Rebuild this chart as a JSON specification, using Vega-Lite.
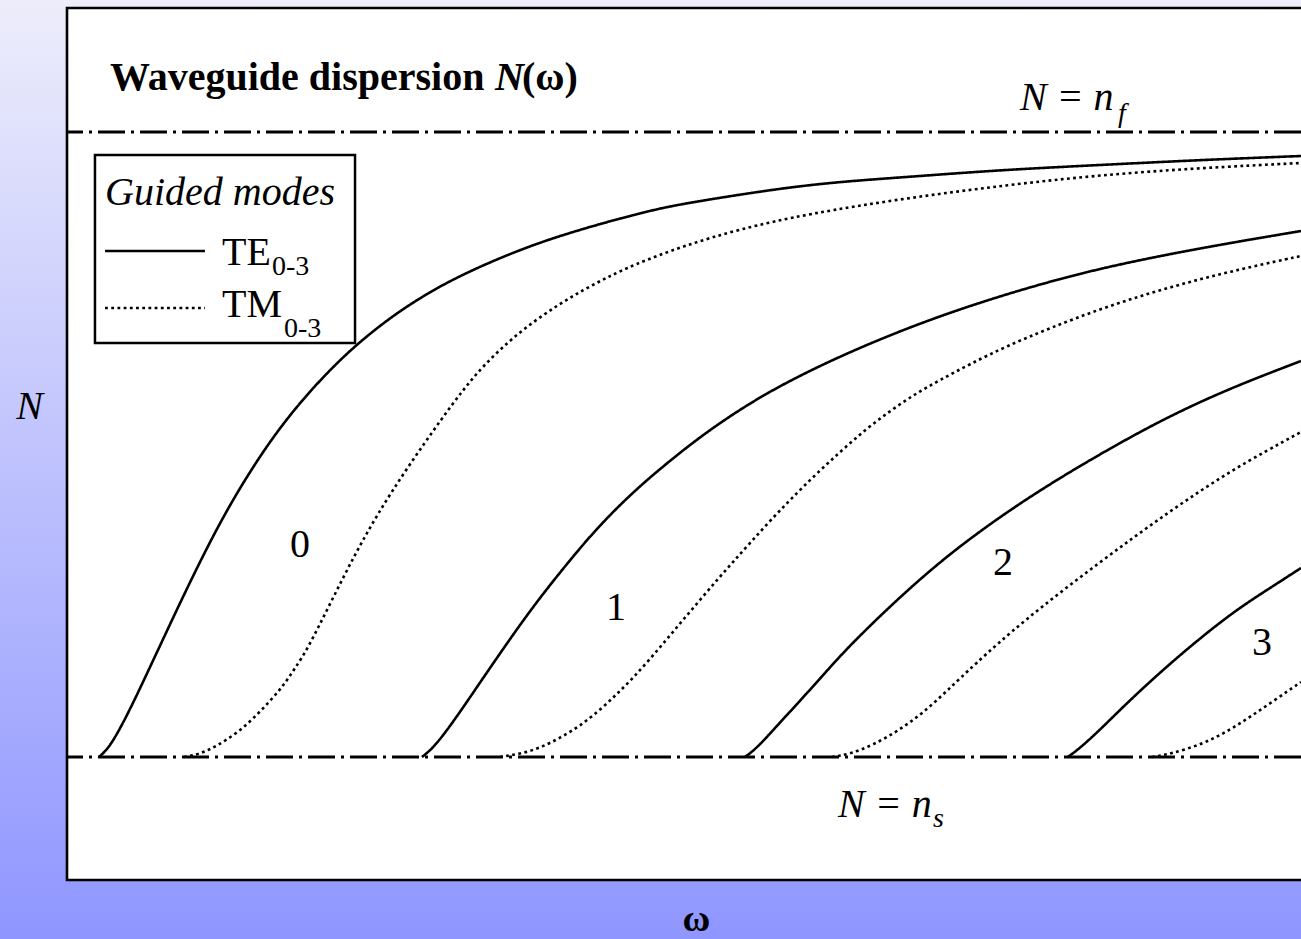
{
  "$schema": "https://vega.github.io/schema/vega-lite/v6.json",
  "width": 1234,
  "height": 872,
  "autosize": {"type": "none"},
  "padding": {"left": 67, "top": 8, "right": 0, "bottom": 59},
  "background": "#C6C9F9",
  "datasets": {
    "one": [{}],
    "levels": [{"n": 1.5, "level": "n_s"}, {"n": 2.0, "level": "n_f"}],
    "curves": [
      {"w": 0.254, "n": 1.5, "curve": "TE0", "mode": "TE"},
      {"w": 0.325, "n": 1.5064, "curve": "TE0", "mode": "TE"},
      {"w": 0.421, "n": 1.5224, "curve": "TE0", "mode": "TE"},
      {"w": 0.54, "n": 1.5464, "curve": "TE0", "mode": "TE"},
      {"w": 0.659, "n": 1.572, "curve": "TE0", "mode": "TE"},
      {"w": 0.778, "n": 1.5976, "curve": "TE0", "mode": "TE"},
      {"w": 0.897, "n": 1.6232, "curve": "TE0", "mode": "TE"},
      {"w": 1.016, "n": 1.648, "curve": "TE0", "mode": "TE"},
      {"w": 1.135, "n": 1.672, "curve": "TE0", "mode": "TE"},
      {"w": 1.254, "n": 1.6944, "curve": "TE0", "mode": "TE"},
      {"w": 1.373, "n": 1.7152, "curve": "TE0", "mode": "TE"},
      {"w": 1.508, "n": 1.7368, "curve": "TE0", "mode": "TE"},
      {"w": 1.643, "n": 1.7568, "curve": "TE0", "mode": "TE"},
      {"w": 1.802, "n": 1.7776, "curve": "TE0", "mode": "TE"},
      {"w": 1.96, "n": 1.796, "curve": "TE0", "mode": "TE"},
      {"w": 2.119, "n": 1.8128, "curve": "TE0", "mode": "TE"},
      {"w": 2.278, "n": 1.828, "curve": "TE0", "mode": "TE"},
      {"w": 2.46, "n": 1.8432, "curve": "TE0", "mode": "TE"},
      {"w": 2.643, "n": 1.8568, "curve": "TE0", "mode": "TE"},
      {"w": 2.841, "n": 1.8696, "curve": "TE0", "mode": "TE"},
      {"w": 3.04, "n": 1.8808, "curve": "TE0", "mode": "TE"},
      {"w": 3.238, "n": 1.8904, "curve": "TE0", "mode": "TE"},
      {"w": 3.437, "n": 1.8992, "curve": "TE0", "mode": "TE"},
      {"w": 3.698, "n": 1.9096, "curve": "TE0", "mode": "TE"},
      {"w": 3.96, "n": 1.9184, "curve": "TE0", "mode": "TE"},
      {"w": 4.23, "n": 1.9264, "curve": "TE0", "mode": "TE"},
      {"w": 4.492, "n": 1.9336, "curve": "TE0", "mode": "TE"},
      {"w": 4.754, "n": 1.94, "curve": "TE0", "mode": "TE"},
      {"w": 5.024, "n": 1.9448, "curve": "TE0", "mode": "TE"},
      {"w": 5.421, "n": 1.9512, "curve": "TE0", "mode": "TE"},
      {"w": 5.817, "n": 1.9568, "curve": "TE0", "mode": "TE"},
      {"w": 6.214, "n": 1.9608, "curve": "TE0", "mode": "TE"},
      {"w": 6.667, "n": 1.964, "curve": "TE0", "mode": "TE"},
      {"w": 7.405, "n": 1.9696, "curve": "TE0", "mode": "TE"},
      {"w": 8.198, "n": 1.9736, "curve": "TE0", "mode": "TE"},
      {"w": 8.992, "n": 1.9776, "curve": "TE0", "mode": "TE"},
      {"w": 9.794, "n": 1.9808, "curve": "TE0", "mode": "TE"},

      {"w": 0.929, "n": 1.5, "curve": "TM0", "mode": "TM"},
      {"w": 1.056, "n": 1.5024, "curve": "TM0", "mode": "TM"},
      {"w": 1.19, "n": 1.5088, "curve": "TM0", "mode": "TM"},
      {"w": 1.349, "n": 1.5192, "curve": "TM0", "mode": "TM"},
      {"w": 1.484, "n": 1.5312, "curve": "TM0", "mode": "TM"},
      {"w": 1.611, "n": 1.5448, "curve": "TM0", "mode": "TM"},
      {"w": 1.722, "n": 1.5576, "curve": "TM0", "mode": "TM"},
      {"w": 1.81, "n": 1.5712, "curve": "TM0", "mode": "TM"},
      {"w": 1.905, "n": 1.5856, "curve": "TM0", "mode": "TM"},
      {"w": 2.087, "n": 1.6224, "curve": "TM0", "mode": "TM"},
      {"w": 2.278, "n": 1.6608, "curve": "TM0", "mode": "TM"},
      {"w": 2.46, "n": 1.6936, "curve": "TM0", "mode": "TM"},
      {"w": 2.698, "n": 1.7312, "curve": "TM0", "mode": "TM"},
      {"w": 2.984, "n": 1.772, "curve": "TM0", "mode": "TM"},
      {"w": 3.143, "n": 1.7936, "curve": "TM0", "mode": "TM"},
      {"w": 3.302, "n": 1.8128, "curve": "TM0", "mode": "TM"},
      {"w": 3.5, "n": 1.832, "curve": "TM0", "mode": "TM"},
      {"w": 3.698, "n": 1.848, "curve": "TM0", "mode": "TM"},
      {"w": 3.897, "n": 1.8616, "curve": "TM0", "mode": "TM"},
      {"w": 4.095, "n": 1.8736, "curve": "TM0", "mode": "TM"},
      {"w": 4.294, "n": 1.884, "curve": "TM0", "mode": "TM"},
      {"w": 4.492, "n": 1.8936, "curve": "TM0", "mode": "TM"},
      {"w": 4.889, "n": 1.9088, "curve": "TM0", "mode": "TM"},
      {"w": 5.341, "n": 1.9224, "curve": "TM0", "mode": "TM"},
      {"w": 5.873, "n": 1.9344, "curve": "TM0", "mode": "TM"},
      {"w": 6.667, "n": 1.9472, "curve": "TM0", "mode": "TM"},
      {"w": 7.46, "n": 1.9576, "curve": "TM0", "mode": "TM"},
      {"w": 8.198, "n": 1.9656, "curve": "TM0", "mode": "TM"},
      {"w": 8.992, "n": 1.9712, "curve": "TM0", "mode": "TM"},
      {"w": 9.794, "n": 1.9752, "curve": "TM0", "mode": "TM"},

      {"w": 2.817, "n": 1.5, "curve": "TE1", "mode": "TE"},
      {"w": 2.897, "n": 1.5064, "curve": "TE1", "mode": "TE"},
      {"w": 3.0, "n": 1.5192, "curve": "TE1", "mode": "TE"},
      {"w": 3.119, "n": 1.536, "curve": "TE1", "mode": "TE"},
      {"w": 3.238, "n": 1.5536, "curve": "TE1", "mode": "TE"},
      {"w": 3.357, "n": 1.5712, "curve": "TE1", "mode": "TE"},
      {"w": 3.516, "n": 1.5944, "curve": "TE1", "mode": "TE"},
      {"w": 3.675, "n": 1.6168, "curve": "TE1", "mode": "TE"},
      {"w": 3.833, "n": 1.6376, "curve": "TE1", "mode": "TE"},
      {"w": 4.032, "n": 1.6624, "curve": "TE1", "mode": "TE"},
      {"w": 4.23, "n": 1.6856, "curve": "TE1", "mode": "TE"},
      {"w": 4.492, "n": 1.712, "curve": "TE1", "mode": "TE"},
      {"w": 4.762, "n": 1.7352, "curve": "TE1", "mode": "TE"},
      {"w": 5.024, "n": 1.756, "curve": "TE1", "mode": "TE"},
      {"w": 5.286, "n": 1.7744, "curve": "TE1", "mode": "TE"},
      {"w": 5.556, "n": 1.7912, "curve": "TE1", "mode": "TE"},
      {"w": 5.873, "n": 1.808, "curve": "TE1", "mode": "TE"},
      {"w": 6.214, "n": 1.824, "curve": "TE1", "mode": "TE"},
      {"w": 6.611, "n": 1.8408, "curve": "TE1", "mode": "TE"},
      {"w": 7.063, "n": 1.8576, "curve": "TE1", "mode": "TE"},
      {"w": 7.587, "n": 1.8744, "curve": "TE1", "mode": "TE"},
      {"w": 8.198, "n": 1.8912, "curve": "TE1", "mode": "TE"},
      {"w": 8.992, "n": 1.9072, "curve": "TE1", "mode": "TE"},
      {"w": 9.794, "n": 1.9208, "curve": "TE1", "mode": "TE"},

      {"w": 3.437, "n": 1.5, "curve": "TM1", "mode": "TM"},
      {"w": 3.595, "n": 1.5024, "curve": "TM1", "mode": "TM"},
      {"w": 3.754, "n": 1.5072, "curve": "TM1", "mode": "TM"},
      {"w": 3.913, "n": 1.5152, "curve": "TM1", "mode": "TM"},
      {"w": 4.071, "n": 1.5248, "curve": "TM1", "mode": "TM"},
      {"w": 4.23, "n": 1.5376, "curve": "TM1", "mode": "TM"},
      {"w": 4.365, "n": 1.5504, "curve": "TM1", "mode": "TM"},
      {"w": 4.492, "n": 1.5632, "curve": "TM1", "mode": "TM"},
      {"w": 4.627, "n": 1.5784, "curve": "TM1", "mode": "TM"},
      {"w": 4.762, "n": 1.5944, "curve": "TM1", "mode": "TM"},
      {"w": 4.889, "n": 1.6096, "curve": "TM1", "mode": "TM"},
      {"w": 5.024, "n": 1.6256, "curve": "TM1", "mode": "TM"},
      {"w": 5.159, "n": 1.6416, "curve": "TM1", "mode": "TM"},
      {"w": 5.286, "n": 1.656, "curve": "TM1", "mode": "TM"},
      {"w": 5.421, "n": 1.6712, "curve": "TM1", "mode": "TM"},
      {"w": 5.579, "n": 1.6888, "curve": "TM1", "mode": "TM"},
      {"w": 5.738, "n": 1.7056, "curve": "TM1", "mode": "TM"},
      {"w": 5.937, "n": 1.7256, "curve": "TM1", "mode": "TM"},
      {"w": 6.135, "n": 1.744, "curve": "TM1", "mode": "TM"},
      {"w": 6.333, "n": 1.7616, "curve": "TM1", "mode": "TM"},
      {"w": 6.532, "n": 1.7768, "curve": "TM1", "mode": "TM"},
      {"w": 6.73, "n": 1.7904, "curve": "TM1", "mode": "TM"},
      {"w": 6.929, "n": 1.8016, "curve": "TM1", "mode": "TM"},
      {"w": 7.167, "n": 1.8144, "curve": "TM1", "mode": "TM"},
      {"w": 7.46, "n": 1.8288, "curve": "TM1", "mode": "TM"},
      {"w": 7.802, "n": 1.8432, "curve": "TM1", "mode": "TM"},
      {"w": 8.198, "n": 1.8584, "curve": "TM1", "mode": "TM"},
      {"w": 8.595, "n": 1.8712, "curve": "TM1", "mode": "TM"},
      {"w": 8.992, "n": 1.8824, "curve": "TM1", "mode": "TM"},
      {"w": 9.389, "n": 1.892, "curve": "TM1", "mode": "TM"},
      {"w": 9.794, "n": 1.9008, "curve": "TM1", "mode": "TM"},

      {"w": 5.381, "n": 1.5, "curve": "TE2", "mode": "TE"},
      {"w": 5.476, "n": 1.5072, "curve": "TE2", "mode": "TE"},
      {"w": 5.619, "n": 1.5232, "curve": "TE2", "mode": "TE"},
      {"w": 5.817, "n": 1.5448, "curve": "TE2", "mode": "TE"},
      {"w": 6.016, "n": 1.5672, "curve": "TE2", "mode": "TE"},
      {"w": 6.214, "n": 1.5896, "curve": "TE2", "mode": "TE"},
      {"w": 6.667, "n": 1.6336, "curve": "TE2", "mode": "TE"},
      {"w": 7.063, "n": 1.6672, "curve": "TE2", "mode": "TE"},
      {"w": 7.46, "n": 1.696, "curve": "TE2", "mode": "TE"},
      {"w": 7.802, "n": 1.7184, "curve": "TE2", "mode": "TE"},
      {"w": 8.198, "n": 1.7424, "curve": "TE2", "mode": "TE"},
      {"w": 8.73, "n": 1.772, "curve": "TE2", "mode": "TE"},
      {"w": 9.254, "n": 1.796, "curve": "TE2", "mode": "TE"},
      {"w": 9.794, "n": 1.8168, "curve": "TE2", "mode": "TE"},

      {"w": 6.071, "n": 1.5, "curve": "TM2", "mode": "TM"},
      {"w": 6.214, "n": 1.5024, "curve": "TM2", "mode": "TM"},
      {"w": 6.397, "n": 1.5096, "curve": "TM2", "mode": "TM"},
      {"w": 6.595, "n": 1.5208, "curve": "TM2", "mode": "TM"},
      {"w": 6.794, "n": 1.5352, "curve": "TM2", "mode": "TM"},
      {"w": 6.992, "n": 1.5536, "curve": "TM2", "mode": "TM"},
      {"w": 7.19, "n": 1.5728, "curve": "TM2", "mode": "TM"},
      {"w": 7.587, "n": 1.6088, "curve": "TM2", "mode": "TM"},
      {"w": 8.198, "n": 1.656, "curve": "TM2", "mode": "TM"},
      {"w": 8.73, "n": 1.6952, "curve": "TM2", "mode": "TM"},
      {"w": 9.254, "n": 1.7304, "curve": "TM2", "mode": "TM"},
      {"w": 9.794, "n": 1.76, "curve": "TM2", "mode": "TM"},

      {"w": 7.944, "n": 1.5, "curve": "TE3", "mode": "TE"},
      {"w": 8.04, "n": 1.5072, "curve": "TE3", "mode": "TE"},
      {"w": 8.198, "n": 1.5216, "curve": "TE3", "mode": "TE"},
      {"w": 8.46, "n": 1.548, "curve": "TE3", "mode": "TE"},
      {"w": 8.857, "n": 1.584, "curve": "TE3", "mode": "TE"},
      {"w": 9.254, "n": 1.616, "curve": "TE3", "mode": "TE"},
      {"w": 9.524, "n": 1.6336, "curve": "TE3", "mode": "TE"},
      {"w": 9.794, "n": 1.6512, "curve": "TE3", "mode": "TE"},

      {"w": 8.611, "n": 1.5, "curve": "TM3", "mode": "TM"},
      {"w": 8.754, "n": 1.5024, "curve": "TM3", "mode": "TM"},
      {"w": 8.992, "n": 1.5096, "curve": "TM3", "mode": "TM"},
      {"w": 9.19, "n": 1.5192, "curve": "TM3", "mode": "TM"},
      {"w": 9.389, "n": 1.532, "curve": "TM3", "mode": "TM"},
      {"w": 9.587, "n": 1.5456, "curve": "TM3", "mode": "TM"},
      {"w": 9.794, "n": 1.56, "curve": "TM3", "mode": "TM"}
    ],
    "titleBold": [
      {"w": 0.341, "n": 2.0336, "label": "Waveguide dispersion"},
      {"w": 3.611, "n": 2.0336, "label": "(ω)"}
    ],
    "titleItalic": [{"w": 3.397, "n": 2.0336, "label": "N"}],
    "italicText": [
      {"w": 7.563, "n": 2.0176, "label": "N = n"},
      {"w": 6.119, "n": 1.452, "label": "N = n"},
      {"w": 0.302, "n": 1.9416, "label": "Guided modes"}
    ],
    "italicSub": [
      {"w": 8.341, "n": 2.008, "label": "f"},
      {"w": 6.873, "n": 1.444, "label": "s"}
    ],
    "legendText": [
      {"w": 1.23, "n": 1.8936, "label": "TE"},
      {"w": 1.23, "n": 1.852, "label": "TM"}
    ],
    "legendSub": [
      {"w": 1.627, "n": 1.8856, "label": "0-3"},
      {"w": 1.722, "n": 1.836, "label": "0-3"}
    ],
    "curveLabels": [
      {"w": 1.849, "n": 1.66, "label": "0"},
      {"w": 4.357, "n": 1.6096, "label": "1"},
      {"w": 7.429, "n": 1.6456, "label": "2"},
      {"w": 9.484, "n": 1.5816, "label": "3"}
    ]
  },
  "layer": [
    {
      "data": {"name": "one"},
      "mark": {
        "type": "rect",
        "clip": false,
        "strokeWidth": 0,
        "fill": {
          "gradient": "linear",
          "x1": 0, "y1": 0, "x2": 0, "y2": 1,
          "stops": [
            {"offset": 0, "color": "#F0F0FB"},
            {"offset": 1, "color": "#8C93FF"}
          ]
        }
      },
      "encoding": {
        "x": {"datum": -0.6, "type": "quantitative", "scale": {"domain": [0, 9.794], "nice": false, "zero": false}, "title": "ω", "axis": {"zindex": 1}},
        "x2": {"datum": 10.6},
        "y": {"datum": 2.13, "type": "quantitative", "scale": {"domain": [1.4016, 2.0992], "nice": false, "zero": false}, "title": "N", "axis": {"zindex": 1}},
        "y2": {"datum": 1.33}
      }
    },
    {
      "data": {"name": "one"},
      "mark": {"type": "rect", "clip": false, "fill": "white", "stroke": "black", "strokeWidth": 2.6},
      "encoding": {
        "x": {"datum": 0, "type": "quantitative", "scale": {"domain": [0, 9.794], "nice": false, "zero": false}, "title": "ω", "axis": {"zindex": 1}},
        "x2": {"datum": 10.6},
        "y": {"datum": 2.0992, "type": "quantitative", "scale": {"domain": [1.4016, 2.0992], "nice": false, "zero": false}, "title": "N", "axis": {"zindex": 1}},
        "y2": {"datum": 1.4016}
      }
    },
    {
      "data": {"name": "levels"},
      "mark": {"type": "rule", "color": "black", "strokeWidth": 2.8, "strokeDash": [27, 6, 3, 6]},
      "encoding": {
        "y": {"field": "n", "type": "quantitative", "scale": {"domain": [1.4016, 2.0992], "nice": false, "zero": false}, "title": "N", "axis": {"zindex": 1}}
      }
    },
    {
      "data": {"name": "curves"},
      "mark": {"type": "line", "color": "black", "strokeWidth": 2.6, "interpolate": "basis"},
      "encoding": {
        "x": {"field": "w", "type": "quantitative", "scale": {"domain": [0, 9.794], "nice": false, "zero": false}, "title": "ω", "axis": {"zindex": 1}},
        "y": {"field": "n", "type": "quantitative", "scale": {"domain": [1.4016, 2.0992], "nice": false, "zero": false}, "title": "N", "axis": {"zindex": 1}},
        "detail": {"field": "curve", "type": "nominal"},
        "strokeDash": {"field": "mode", "type": "nominal", "scale": {"domain": ["TE", "TM"], "range": [[1, 0], [2.8, 3.4]]}, "legend": null}
      }
    },
    {
      "data": {"name": "one"},
      "mark": {"type": "rect", "clip": false, "fill": "white", "stroke": "black", "strokeWidth": 2.5},
      "encoding": {
        "x": {"datum": 0.222, "type": "quantitative", "scale": {"domain": [0, 9.794], "nice": false, "zero": false}, "title": "ω", "axis": {"zindex": 1}},
        "x2": {"datum": 2.286},
        "y": {"datum": 1.9816, "type": "quantitative", "scale": {"domain": [1.4016, 2.0992], "nice": false, "zero": false}, "title": "N", "axis": {"zindex": 1}},
        "y2": {"datum": 1.8312}
      }
    },
    {
      "data": {"name": "one"},
      "mark": {"type": "rule", "color": "black", "strokeWidth": 2.6},
      "encoding": {
        "x": {"datum": 0.302, "type": "quantitative", "scale": {"domain": [0, 9.794], "nice": false, "zero": false}, "title": "ω", "axis": {"zindex": 1}},
        "x2": {"datum": 1.095},
        "y": {"datum": 1.9048, "type": "quantitative", "scale": {"domain": [1.4016, 2.0992], "nice": false, "zero": false}, "title": "N", "axis": {"zindex": 1}}
      }
    },
    {
      "data": {"name": "one"},
      "mark": {"type": "rule", "color": "black", "strokeWidth": 2.6, "strokeDash": [2.8, 3.4]},
      "encoding": {
        "x": {"datum": 0.302, "type": "quantitative", "scale": {"domain": [0, 9.794], "nice": false, "zero": false}, "title": "ω", "axis": {"zindex": 1}},
        "x2": {"datum": 1.095},
        "y": {"datum": 1.8592, "type": "quantitative", "scale": {"domain": [1.4016, 2.0992], "nice": false, "zero": false}, "title": "N", "axis": {"zindex": 1}}
      }
    },
    {
      "data": {"name": "titleBold"},
      "mark": {"type": "text", "font": "Liberation Serif", "fontSize": 40, "fontWeight": "bold", "align": "left", "baseline": "alphabetic", "color": "black"},
      "encoding": {
        "x": {"field": "w", "type": "quantitative", "scale": {"domain": [0, 9.794], "nice": false, "zero": false}, "title": "ω", "axis": {"zindex": 1}},
        "y": {"field": "n", "type": "quantitative", "scale": {"domain": [1.4016, 2.0992], "nice": false, "zero": false}, "title": "N", "axis": {"zindex": 1}},
        "text": {"field": "label"}
      }
    },
    {
      "data": {"name": "titleItalic"},
      "mark": {"type": "text", "font": "Liberation Serif", "fontSize": 40, "fontWeight": "bold", "fontStyle": "italic", "align": "left", "baseline": "alphabetic", "color": "black"},
      "encoding": {
        "x": {"field": "w", "type": "quantitative", "scale": {"domain": [0, 9.794], "nice": false, "zero": false}, "title": "ω", "axis": {"zindex": 1}},
        "y": {"field": "n", "type": "quantitative", "scale": {"domain": [1.4016, 2.0992], "nice": false, "zero": false}, "title": "N", "axis": {"zindex": 1}},
        "text": {"field": "label"}
      }
    },
    {
      "data": {"name": "italicText"},
      "mark": {"type": "text", "font": "Liberation Serif", "fontSize": 40, "fontStyle": "italic", "align": "left", "baseline": "alphabetic", "color": "black"},
      "encoding": {
        "x": {"field": "w", "type": "quantitative", "scale": {"domain": [0, 9.794], "nice": false, "zero": false}, "title": "ω", "axis": {"zindex": 1}},
        "y": {"field": "n", "type": "quantitative", "scale": {"domain": [1.4016, 2.0992], "nice": false, "zero": false}, "title": "N", "axis": {"zindex": 1}},
        "text": {"field": "label"}
      }
    },
    {
      "data": {"name": "italicSub"},
      "mark": {"type": "text", "font": "Liberation Serif", "fontSize": 28, "fontStyle": "italic", "align": "left", "baseline": "alphabetic", "color": "black"},
      "encoding": {
        "x": {"field": "w", "type": "quantitative", "scale": {"domain": [0, 9.794], "nice": false, "zero": false}, "title": "ω", "axis": {"zindex": 1}},
        "y": {"field": "n", "type": "quantitative", "scale": {"domain": [1.4016, 2.0992], "nice": false, "zero": false}, "title": "N", "axis": {"zindex": 1}},
        "text": {"field": "label"}
      }
    },
    {
      "data": {"name": "legendText"},
      "mark": {"type": "text", "font": "Liberation Serif", "fontSize": 40, "align": "left", "baseline": "alphabetic", "color": "black"},
      "encoding": {
        "x": {"field": "w", "type": "quantitative", "scale": {"domain": [0, 9.794], "nice": false, "zero": false}, "title": "ω", "axis": {"zindex": 1}},
        "y": {"field": "n", "type": "quantitative", "scale": {"domain": [1.4016, 2.0992], "nice": false, "zero": false}, "title": "N", "axis": {"zindex": 1}},
        "text": {"field": "label"}
      }
    },
    {
      "data": {"name": "legendSub"},
      "mark": {"type": "text", "font": "Liberation Serif", "fontSize": 28, "align": "left", "baseline": "alphabetic", "color": "black"},
      "encoding": {
        "x": {"field": "w", "type": "quantitative", "scale": {"domain": [0, 9.794], "nice": false, "zero": false}, "title": "ω", "axis": {"zindex": 1}},
        "y": {"field": "n", "type": "quantitative", "scale": {"domain": [1.4016, 2.0992], "nice": false, "zero": false}, "title": "N", "axis": {"zindex": 1}},
        "text": {"field": "label"}
      }
    },
    {
      "data": {"name": "curveLabels"},
      "mark": {"type": "text", "font": "Liberation Serif", "fontSize": 40, "align": "center", "baseline": "alphabetic", "color": "black"},
      "encoding": {
        "x": {"field": "w", "type": "quantitative", "scale": {"domain": [0, 9.794], "nice": false, "zero": false}, "title": "ω", "axis": {"zindex": 1}},
        "y": {"field": "n", "type": "quantitative", "scale": {"domain": [1.4016, 2.0992], "nice": false, "zero": false}, "title": "N", "axis": {"zindex": 1}},
        "text": {"field": "label"}
      }
    }
  ],
  "config": {
    "view": {"stroke": null},
    "axisX": {
      "domain": false, "ticks": false, "labels": false, "grid": false,
      "titleFont": "Liberation Serif", "titleFontSize": 38, "titleFontWeight": "bold", "titleColor": "black",
      "titleBaseline": "alphabetic", "titleAlign": "center", "titleX": 629, "titleY": 50
    },
    "axisY": {
      "domain": false, "ticks": false, "labels": false, "grid": false,
      "titleFont": "Liberation Serif", "titleFontSize": 40, "titleFontWeight": "normal", "titleFontStyle": "italic", "titleColor": "black",
      "titleAngle": 0, "titleBaseline": "alphabetic", "titleAlign": "center", "titleX": -38, "titleY": 410
    }
  }
}
